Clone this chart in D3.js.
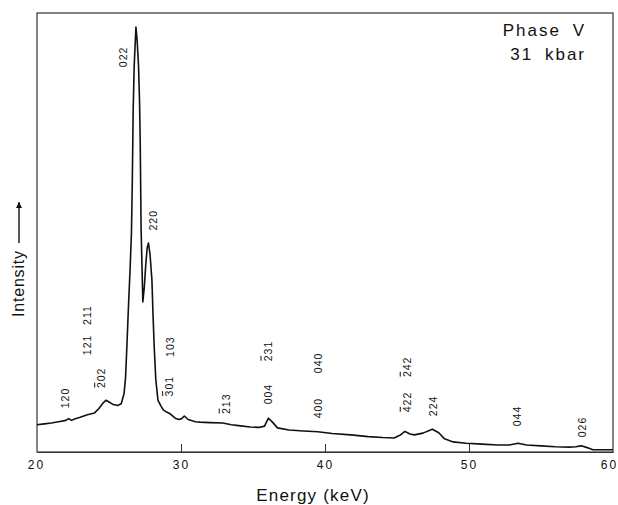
<!DOCTYPE html>
<html>
<head>
<meta charset="utf-8">
<script src="https://cdn.jsdelivr.net/npm/d3@7"></script>
<style>
  body { margin: 0; background: #fff; }
  text { font-family: "Liberation Sans", Arial, sans-serif; fill: #111; }
</style>
</head>
<body>
<svg class="d3svg" width="618" height="505"></svg>
<script>
// spectrum: energy (keV) and intensity (arb., 0 = axis, 100 = top frame)
var energy = [20.0, 20.5, 21.0, 21.5, 22.0, 22.2, 22.4, 22.6, 23.0, 23.5, 24.0, 24.3, 24.6, 24.8, 25.0, 25.3, 25.6,
  25.85, 26.05, 26.15, 26.24, 26.35, 26.47, 26.56, 26.62, 26.68, 26.75, 26.87, 26.95, 27.05, 27.12, 27.17, 27.23, 27.35,
  27.45, 27.55, 27.65, 27.74, 27.85, 27.98, 28.06, 28.14, 28.25, 28.4, 28.6, 28.77, 29.0, 29.25, 29.6, 29.85, 30.05,
  30.23, 30.5, 31.0, 31.3, 32.0, 32.9, 33.5, 34.0, 34.8, 35.4, 35.8, 36.07, 36.35, 36.7, 37.5, 38.5, 39.5, 40.5, 41.8,
  43.0, 44.0, 44.8, 45.2, 45.55, 45.9, 46.2, 46.8, 47.45, 47.9, 48.3, 48.9, 49.8, 50.9, 52.0, 52.8, 53.4, 54.0, 55.0,
  56.0, 57.0, 57.4, 57.8, 58.2, 58.6, 59.2, 60.0];
var intensity = [6.2, 6.4, 6.6, 6.9, 7.2, 7.6, 7.2, 7.5, 7.9, 8.5, 8.9, 9.9, 11.2, 11.8, 11.4, 10.8, 10.6,
  11.0, 13.4, 17.0, 23.9, 33.0, 42.1, 50.0, 62.0, 78.0, 88.0, 96.8, 94.0, 88.0, 80.0, 70.0, 50.6, 34.2,
  37.5, 42.5, 46.5, 47.6, 45.0, 39.2, 31.0, 23.9, 16.5, 11.8, 10.5, 9.6, 9.1, 8.7, 7.7, 7.4, 7.6,
  8.2, 7.4, 6.9, 6.8, 6.7, 6.6, 6.2, 6.0, 5.7, 5.6, 5.9, 7.7, 6.8, 5.5, 5.0, 4.8, 4.6, 4.2, 3.9,
  3.5, 3.3, 3.2, 3.8, 4.7, 4.1, 3.9, 4.3, 5.2, 4.4, 3.0, 2.3, 2.0, 1.8, 1.6, 1.6, 2.0, 1.6, 1.4,
  1.2, 1.1, 1.2, 1.4, 1.0, 0.5, 0.5, 0.5];

// reflection labels (hkl, "-" = bar over the next index), label centre as energy / intensity
var hkl = ["022", "220", "211", "121", "-202", "120", "103", "-301", "-213", "-231", "004",
  "040", "400", "-242", "-422", "224", "044", "026"];
var hklEnergy = [25.98, 28.05, 23.46, 23.46, 24.5, 22.0, 29.25, 29.22, 33.15, 36.05, 36.07,
  39.55, 39.55, 45.72, 45.72, 47.5, 53.37, 57.9];
var hklHeight = [90.0, 52.8, 31.2, 24.4, 16.9, 12.3, 24.0, 15.0, 11.0, 23.0, 13.2,
  20.3, 10.0, 19.4, 11.4, 10.5, 8.2, 5.7];

var tickValues = [20, 30, 40, 50, 60];
var titleLines = ["Phase V", "31 kbar"];

var svg = d3.select(".d3svg"),
    width = +svg.attr("width"),
    height = +svg.attr("height");

var mLeft = 37, mRight = 613, mTop = 13, mBottom = 452;

var x = d3.scaleLinear().domain([20, 60]).range([mLeft, mRight]);
var y = d3.scaleLinear().domain([0, 100]).range([mBottom, mTop]);

var pts = energy.map(function(e, i) { return {x: e, y: intensity[i]}; });

var lineFunction = d3.line()
    .x(function(d) { return x(d.x); })
    .y(function(d) { return y(d.y); });

// frame
svg.append("rect")
    .attr("x", mLeft)
    .attr("y", mTop)
    .attr("width", mRight - mLeft)
    .attr("height", mBottom - mTop)
    .attr("fill", "none")
    .attr("stroke", "#333")
    .attr("stroke-width", 1.2);

// bottom axis, ticks pointing inward
var xAxis = d3.axisBottom(x)
    .tickValues(tickValues)
    .tickSizeInner(-8)
    .tickSizeOuter(0)
    .tickPadding(8)
    .tickFormat(d3.format("d"));

var gx = svg.append("g")
    .attr("transform", "translate(0," + mBottom + ")")
    .call(xAxis);
gx.select(".domain").attr("stroke", "#333").attr("stroke-width", 1.2);
gx.selectAll(".tick line")
    .attr("stroke", "#333")
    .attr("stroke-width", 1)
    .attr("display", function(d) { return (d == 20 || d == 60) ? "none" : null; });
gx.selectAll(".tick text")
    .attr("font-family", "Liberation Sans, Arial, sans-serif")
    .attr("font-size", 12)
    .attr("letter-spacing", 2)
    .attr("dx", function(d) { return d == 60 ? -4 : (d == 20 ? -1 : 0); })
    .attr("fill", "#111");

// spectrum
svg.append("path")
    .attr("d", lineFunction(pts))
    .attr("fill", "none")
    .attr("stroke", "#111")
    .attr("stroke-width", 1.6)
    .attr("stroke-linejoin", "round");

// hkl labels, rotated, with overbars drawn over the barred index
var labels = svg.append("g")
    .selectAll("g")
    .data(hkl)
    .enter()
    .append("g")
    .attr("transform", function(d, i) {
        return "translate(" + x(hklEnergy[i]) + "," + y(hklHeight[i]) + ") rotate(-90)";
    });

labels.append("text")
    .attr("text-anchor", "middle")
    .attr("dy", "0.35em")
    .attr("font-size", 10.5)
    .attr("letter-spacing", 1)
    .text(function(d) { return d.replace("-", ""); });

labels.each(function(d) {
    var k = d.indexOf("-");
    if (k < 0) return;
    var g = d3.select(this);
    var ext = g.select("text").node().getExtentOfChar(k);
    g.append("line")
        .attr("x1", ext.x + 0.5)
        .attr("x2", ext.x + ext.width - 1.5)
        .attr("y1", ext.y - 0.8)
        .attr("y2", ext.y - 0.8)
        .attr("stroke", "#111")
        .attr("stroke-width", 1);
});

// title
svg.append("g")
    .selectAll("text")
    .data(titleLines)
    .enter()
    .append("text")
    .attr("x", 586)
    .attr("y", function(d, i) { return 36 + i * 24; })
    .attr("text-anchor", "end")
    .attr("font-size", 17)
    .attr("letter-spacing", 2)
    .attr("word-spacing", 5)
    .text(function(d) { return d; });

// axis titles
svg.append("text")
    .attr("x", 313)
    .attr("y", 501)
    .attr("text-anchor", "middle")
    .attr("font-size", 17)
    .attr("letter-spacing", 1.2)
    .text("Energy (keV)");

svg.append("text")
    .attr("transform", "translate(24,317) rotate(-90)")
    .attr("text-anchor", "start")
    .attr("font-size", 16)
    .attr("letter-spacing", 0.8)
    .text("Intensity");

svg.append("defs").append("marker")
    .attr("id", "head")
    .attr("viewBox", "0 0 10 10")
    .attr("refX", 10)
    .attr("refY", 5)
    .attr("markerWidth", 6)
    .attr("markerHeight", 6)
    .attr("markerUnits", "userSpaceOnUse")
    .attr("orient", "auto")
    .append("path")
    .attr("d", "M0,0 L10,5 L0,10 Z")
    .attr("fill", "#111");

svg.append("line")
    .attr("x1", 19)
    .attr("x2", 19)
    .attr("y1", 243)
    .attr("y2", 202)
    .attr("stroke", "#111")
    .attr("stroke-width", 1.4)
    .attr("marker-end", "url(#head)");
</script>
</body>
</html>
